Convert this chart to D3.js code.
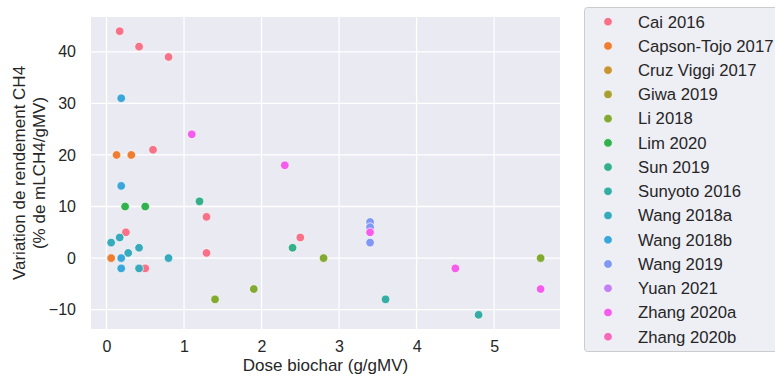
<!DOCTYPE html>
<html>
<head>
<meta charset="utf-8">
<script src="https://cdn.jsdelivr.net/npm/d3@7"></script>
<style>
  body { margin: 0; background: #fff; }
  text { font-family: "Liberation Sans", Arial, sans-serif; fill: #262626; }
</style>
</head>
<body>
<svg id="chart" width="775" height="380"></svg>
<script>
// studies (legend order)
const studies = ["Cai 2016", "Capson-Tojo 2017", "Cruz Viggi 2017", "Giwa 2019", "Li 2018",
  "Lim 2020", "Sun 2019", "Sunyoto 2016", "Wang 2018a", "Wang 2018b", "Wang 2019",
  "Yuan 2021", "Zhang 2020a", "Zhang 2020b"];

// one entry per point
const pointStudy = [
  "Cai 2016", "Cai 2016", "Cai 2016", "Cai 2016", "Cai 2016", "Cai 2016", "Cai 2016", "Cai 2016", "Cai 2016",
  "Capson-Tojo 2017", "Capson-Tojo 2017", "Capson-Tojo 2017",
  "Li 2018", "Li 2018", "Li 2018", "Li 2018",
  "Lim 2020", "Lim 2020",
  "Sun 2019", "Sun 2019",
  "Sunyoto 2016", "Sunyoto 2016",
  "Wang 2018a", "Wang 2018a", "Wang 2018a", "Wang 2018a", "Wang 2018a", "Wang 2018a",
  "Wang 2018b", "Wang 2018b", "Wang 2018b", "Wang 2018b",
  "Wang 2019", "Wang 2019", "Wang 2019",
  "Zhang 2020a", "Zhang 2020a", "Zhang 2020a", "Zhang 2020a", "Zhang 2020a"];
const dose = [
  0.17, 0.42, 0.8, 0.6, 1.29, 0.25, 2.5, 1.29, 0.5,
  0.13, 0.32, 0.06,
  1.4, 1.9, 2.8, 5.6,
  0.24, 0.5,
  1.2, 2.4,
  3.6, 4.8,
  0.06, 0.17, 0.28, 0.42, 0.42, 0.8,
  0.19, 0.19, 0.19, 0.19,
  3.4, 3.4, 3.4,
  1.1, 2.3, 3.4, 4.5, 5.6];
const variation = [
  44, 41, 39, 21, 8, 5, 4, 1, -2,
  20, 20, 0,
  -8, -6, 0, 0,
  10, 10,
  11, 2,
  -8, -11,
  3, 4, 1, 2, -2, 0,
  31, 14, 0, -2,
  7, 6, 3,
  24, 18, 5, -2, -6];

const xTicks = [0, 1, 2, 3, 4, 5];
const yTicks = [-10, 0, 10, 20, 30, 40];

// husl palette like seaborn (h=.01, s=.9, l=.65)
function huslToRgb(H, S, L) {
  const m = [[3.2406, -1.5372, -0.4986], [-0.9689, 1.8758, 0.0415], [0.0557, -0.2040, 1.0570]];
  const eps = 0.0088564516, kappa = 903.2962962;
  const hrad = H / 360 * 2 * Math.PI, sinH = Math.sin(hrad), cosH = Math.cos(hrad);
  let sub1 = Math.pow(L + 16, 3) / 1560896;
  let sub2 = sub1 > eps ? sub1 : L / kappa;
  let maxC = Infinity;
  m.forEach(([m1, m2, m3]) => {
    const top = (0.99915 * m1 + 1.05122 * m2 + 1.14460 * m3) * sub2;
    const rb = 0.86330 * m3 - 0.17266 * m2;
    const lb = 0.12949 * m3 - 0.38848 * m1;
    const bottom = (rb * sinH + lb * cosH) * sub2;
    [0, 1].forEach(t => {
      const C = L * (top - 1.05122 * t) / (bottom + 0.17266 * sinH * t);
      if (C > 0 && C < maxC) maxC = C;
    });
  });
  const C = maxC / 100 * S;
  const U = C * Math.cos(hrad), V = C * Math.sin(hrad);
  const t = (L + 16) / 116;
  const Y = Math.pow(t, 3) > eps ? Math.pow(t, 3) : (116 * t - 16) / kappa;
  const vu = U / (13 * L) + 0.19784, vv = V / (13 * L) + 0.46834;
  const X = 0 - (9 * Y * vu) / ((vu - 4) * vv - vu * vv);
  const Z = (9 * Y - 15 * vv * Y - vv * X) / (3 * vv);
  const lin = c => c <= 0.0031308 ? 12.92 * c : 1.055 * Math.pow(c, 1 / 2.4) - 0.055;
  const rgb = m.map(r => Math.max(0, Math.min(1, lin(r[0] * X + r[1] * Y + r[2] * Z))));
  return d3.rgb(rgb[0] * 255, rgb[1] * 255, rgb[2] * 255).formatHex();
}
const palette = studies.map((s, i) => huslToRgb(((i / studies.length + 0.01) % 1) * 359, 89.1, 64.35));
const color = d3.scaleOrdinal().domain(studies).range(palette);

const margin = {top: 17, right: 215, bottom: 51, left: 91},
  width = 775 - margin.left - margin.right,
  height = 380 - margin.top - margin.bottom;

const svg = d3.select("#chart");
const g = svg.append("g").attr("transform", "translate(" + margin.left + "," + margin.top + ")");

const x = d3.scaleLinear().domain([-0.2, 5.85]).range([0, width]);
const y = d3.scaleLinear().domain([-13.75, 46.75]).range([height, 0]);

g.append("rect").attr("width", width).attr("height", height).attr("fill", "#eaeaf2");

g.append("g").attr("class", "x-grid")
  .selectAll("line").data(xTicks).enter().append("line")
  .attr("x1", d => x(d)).attr("x2", d => x(d)).attr("y1", 0).attr("y2", height)
  .attr("stroke", "#fff").attr("stroke-width", 1.3);
g.append("g").attr("class", "y-grid")
  .selectAll("line").data(yTicks).enter().append("line")
  .attr("y1", d => y(d)).attr("y2", d => y(d)).attr("x1", 0).attr("x2", width)
  .attr("stroke", "#fff").attr("stroke-width", 1.3);

const fmt = d => d < 0 ? "\u2212" + Math.abs(d) : String(d);

const xAxis = g.append("g").attr("transform", "translate(0," + height + ")")
  .call(d3.axisBottom(x).tickValues(xTicks).tickFormat(fmt).tickSize(0).tickPadding(12));
const yAxis = g.append("g")
  .call(d3.axisLeft(y).tickValues(yTicks).tickFormat(fmt).tickSize(0).tickPadding(15));
[xAxis, yAxis].forEach(a => {
  a.select(".domain").remove();
  a.selectAll("text").attr("font-size", 16).attr("fill", "#262626")
    .attr("font-family", "Liberation Sans, Arial, sans-serif");
});

g.selectAll("circle.pt")
  .data(dose.map((d, i) => ({x: d, y: variation[i], s: pointStudy[i]})))
  .enter().append("circle").attr("class", "pt")
  .attr("cx", d => x(d.x)).attr("cy", d => y(d.y)).attr("r", 4.3)
  .attr("fill", d => color(d.s)).attr("stroke", "#fff").attr("stroke-width", 0.7);

g.append("text").attr("x", width / 2).attr("y", height + 42)
  .attr("text-anchor", "middle").attr("font-size", 17).text("Dose biochar (g/gMV)");

const yl = g.append("text").attr("transform", "translate(-61," + height / 2 + ") rotate(-90)")
  .attr("text-anchor", "middle").attr("font-size", 17);
yl.append("tspan").attr("x", 0).attr("dy", "-0.3em").text("Variation de rendement CH4");
yl.append("tspan").attr("x", 0).attr("dy", "1.2em").text("(% de mLCH4/gMV)");

// legend
const lg = svg.append("g").attr("transform", "translate(584,7)");
lg.append("rect").attr("x", 0.5).attr("y", 0.5).attr("width", 220).attr("height", 344)
  .attr("rx", 3).attr("fill", "#eaeaf2").attr("fill-opacity", 0.8).attr("stroke", "#cccccc");
const items = lg.selectAll("g.item").data(studies).enter().append("g").attr("class", "item")
  .attr("transform", (d, i) => "translate(0," + (14.7 + i * 24.23) + ")");
items.append("circle").attr("cx", 24).attr("r", 4.3).attr("fill", d => color(d))
  .attr("stroke", "#fff").attr("stroke-width", 0.7);
items.append("text").attr("x", 54).attr("dy", "0.35em").attr("font-size", 16.7).text(d => d);
</script>
</body>
</html>
